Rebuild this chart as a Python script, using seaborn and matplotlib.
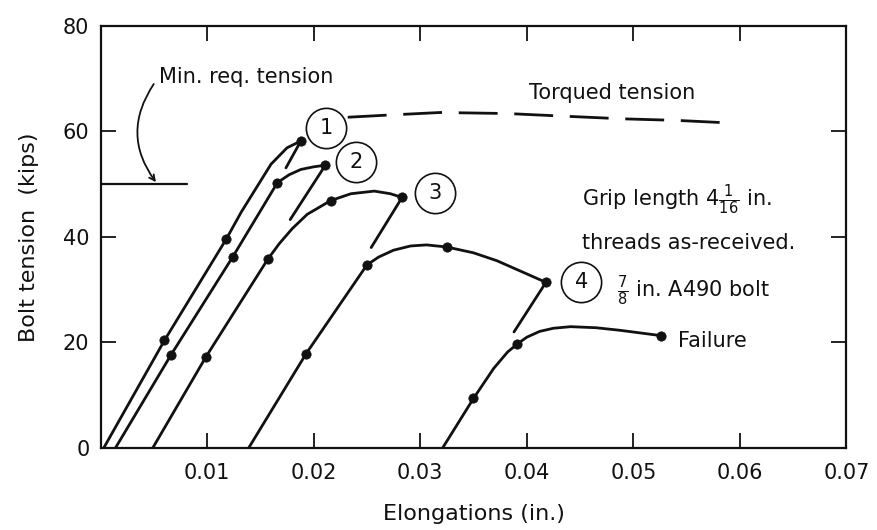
import matplotlib
matplotlib.use("Agg")
import matplotlib.pyplot as plt
import seaborn as sns
import pandas as pd

# Bolt tension vs. elongation, five successive loadings of one bolt
# (loading branch followed by the short unloading tail)
c1_x = [0.0003, 0.0060, 0.0118, 0.0132, 0.0160, 0.0175, 0.0188, 0.0174]
c1_y = [0.0, 20.4, 39.6, 44.7, 53.8, 56.9, 58.2, 53.1]
c2_x = [0.0014, 0.0066, 0.0124, 0.0166, 0.0177, 0.0188, 0.0200, 0.0211, 0.0178]
c2_y = [0.0, 17.6, 36.2, 50.3, 51.8, 52.8, 53.3, 53.6, 43.3]
c3_x = [0.0049, 0.0099, 0.0157, 0.0168, 0.0180, 0.0194, 0.0216, 0.0235, 0.0257, 0.0272, 0.0283, 0.0254]
c3_y = [0.0, 17.3, 35.8, 38.8, 41.6, 44.3, 46.9, 48.2, 48.7, 48.2, 47.5, 38.0]
c4_x = [0.0139, 0.0193, 0.0250, 0.0261, 0.0275, 0.0291, 0.0306, 0.0325, 0.0350, 0.0372, 0.0418, 0.0388]
c4_y = [0.0, 17.9, 34.7, 36.2, 37.5, 38.3, 38.5, 38.1, 37.0, 35.5, 31.4, 22.0]
c5_x = [0.0321, 0.0350, 0.0369, 0.0382, 0.0391, 0.0400, 0.0412, 0.0425, 0.0441, 0.0465, 0.0488, 0.0526]
c5_y = [0.0, 9.4, 15.1, 18.2, 19.7, 21.0, 22.1, 22.7, 23.0, 22.8, 22.3, 21.3]

# measured points (dots)
dot_x = [0.0060, 0.0118, 0.0188, 0.0066, 0.0124, 0.0166, 0.0211, 0.0099, 0.0157, 0.0216,
         0.0283, 0.0193, 0.0250, 0.0325, 0.0418, 0.0350, 0.0391, 0.0526]
dot_y = [20.4, 39.6, 58.2, 17.6, 36.2, 50.3, 53.6, 17.3, 35.8, 46.9,
         47.5, 17.9, 34.7, 38.1, 31.4, 9.4, 19.7, 21.3]

# torqued tension (dashed) and minimum required tension
torq_x = [0.0232, 0.0269, 0.0319, 0.0382, 0.0435, 0.0490, 0.0541, 0.0592]
torq_y = [62.7, 63.1, 63.6, 63.4, 62.9, 62.4, 62.1, 61.6]
minreq_x = [0.0, 0.0081]
minreq_y = [50.0, 50.0]

# numbered test labels
test_labels = ["1", "2", "3", "4"]
test_x = [0.0212, 0.0240, 0.0314, 0.0451]
test_y = [60.7, 54.2, 48.4, 31.4]

x_ticks = [0.01, 0.02, 0.03, 0.04, 0.05, 0.06, 0.07]
y_ticks = [0, 20, 40, 60, 80]

sns.set_style("ticks")
plt.rcParams['font.family'] = ['DejaVu Sans']
plt.rcParams['mathtext.fontset'] = 'dejavusans'

ink = '#111111'
fig, ax = plt.subplots(figsize=(8.77, 5.30), dpi=100)
fig.subplots_adjust(left=0.1146, right=0.9652, bottom=0.1547, top=0.951)

for cx, cy in [(c1_x, c1_y), (c2_x, c2_y), (c3_x, c3_y), (c4_x, c4_y), (c5_x, c5_y)]:
    df = pd.DataFrame({'x': cx, 'y': cy})
    sns.lineplot(data=df, x='x', y='y', sort=False, estimator=None, color=ink, lw=2.0, ax=ax)

sns.scatterplot(x=dot_x, y=dot_y, color=ink, s=45, edgecolor=ink, zorder=4, ax=ax)

sns.lineplot(x=torq_x, y=torq_y, sort=False, estimator=None, color=ink, lw=2.0,
             dashes=False, ax=ax)
ax.lines[-1].set_dashes((14, 6))
sns.lineplot(x=minreq_x, y=minreq_y, sort=False, estimator=None, color=ink, lw=1.6, ax=ax)

# circled test numbers
ax.plot(test_x, test_y, 'o', ms=29, mfc='white', mec=ink, mew=1.2, zorder=5, ls='none')
for lab, tx, ty in zip(test_labels, test_x, test_y):
    ax.text(tx, ty, lab, ha='center', va='center', fontsize=15, color=ink, zorder=6)

# annotations
ax.annotate("", xy=(0.0052, 50.4), xytext=(0.0050, 69.0),
            arrowprops=dict(arrowstyle='->', color=ink, lw=1.3,
                            connectionstyle='arc3,rad=0.35', shrinkA=0, shrinkB=0))
ax.text(0.00547, 69.1, "Min. req. tension", fontsize=15, color=ink, va='baseline')
ax.text(0.0402, 66.2, "Torqued tension", fontsize=15, color=ink, va='baseline')
ax.text(0.0452, 45.9, r"Grip length 4$\frac{1}{16}$ in.", fontsize=15, color=ink, va='baseline')
ax.text(0.0452, 37.7, "threads as-received.", fontsize=15, color=ink, va='baseline')
ax.text(0.0485, 28.6, r"$\frac{7}{8}$ in. A490 bolt", fontsize=15, color=ink, va='baseline')
ax.text(0.0542, 19.2, "Failure", fontsize=15, color=ink, va='baseline')

ax.set_xlim(0, 0.07)
ax.set_ylim(0, 80)
ax.set_xticks(x_ticks)
ax.set_xticklabels([f"{t:.2f}" for t in x_ticks])
ax.set_yticks(y_ticks)
ax.tick_params(direction='in', length=11, width=1.3, top=True, right=True,
               labelsize=15, colors=ink)
ax.tick_params(axis='x', pad=11)
ax.tick_params(axis='y', pad=8)
for sp in ax.spines.values():
    sp.set_linewidth(1.6)
    sp.set_color(ink)

ax.set_xlabel("Elongations (in.)", fontsize=16, color=ink, labelpad=15)
ax.set_ylabel("Bolt tension  (kips)", fontsize=16, color=ink, labelpad=17)

plt.savefig("out.png", dpi=100)
